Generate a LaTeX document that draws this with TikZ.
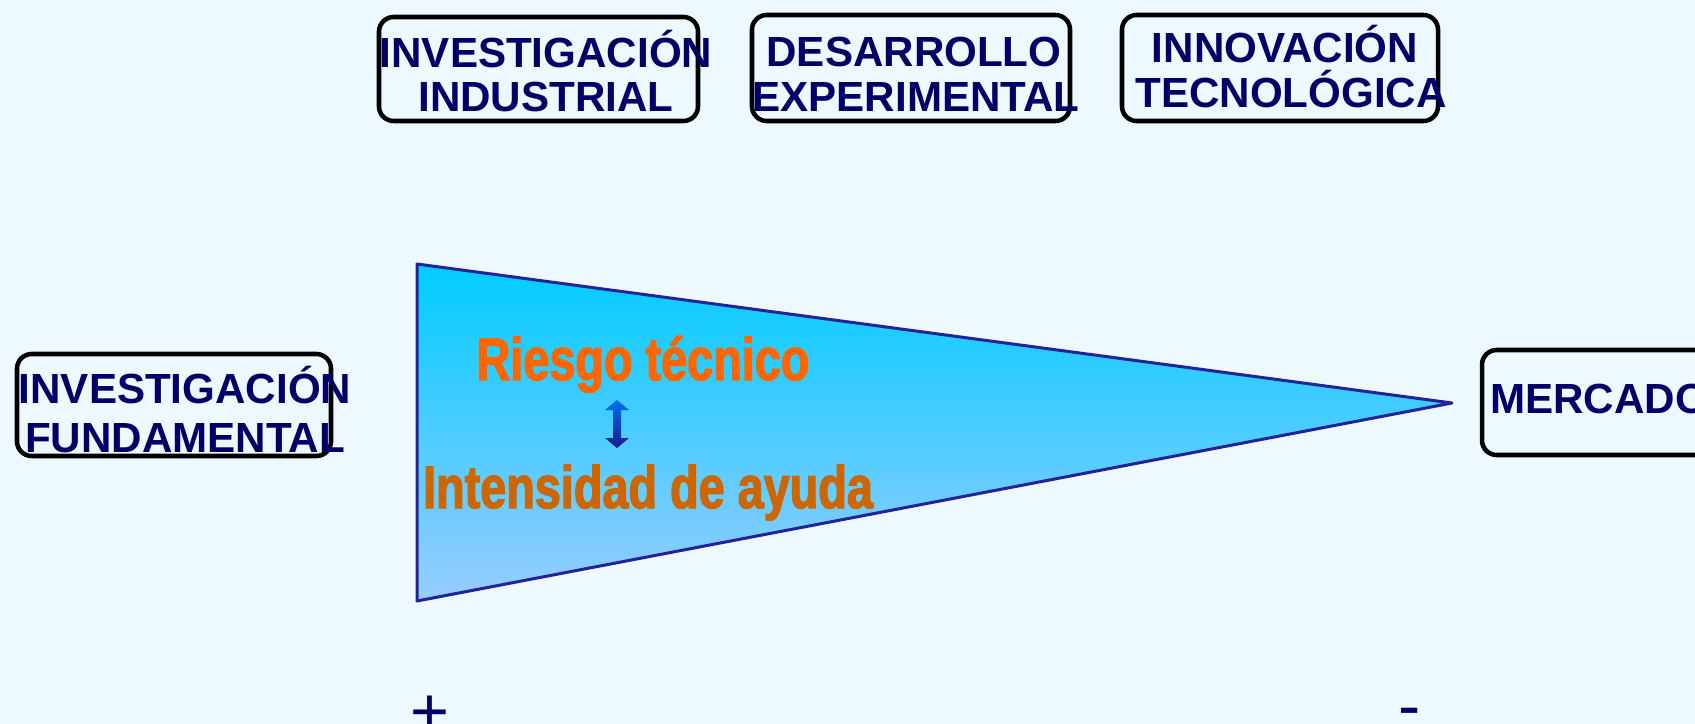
\documentclass[tikz,border=0pt]{standalone}
\usepackage{fontspec}
\setmainfont{Liberation Sans}
\newfontfamily\impfont[FakeStretch=0.78,FakeBold=2.2]{Liberation Sans Bold}
\definecolor{bg}{RGB}{238,248,255}
\definecolor{navy}{RGB}{0,0,102}
\definecolor{triline}{RGB}{34,34,153}
\definecolor{tritop}{RGB}{0,204,255}
\definecolor{tribot}{RGB}{153,204,255}
\definecolor{orangeA}{RGB}{255,102,0}
\definecolor{orangeB}{RGB}{204,102,0}
\definecolor{arrtop}{RGB}{0,112,240}
\definecolor{arrbot}{RGB}{26,26,140}
\begin{document}
\begin{tikzpicture}[x=0.75pt,y=-0.75pt,
  box/.style={draw=black,line width=3.4pt,rounded corners=11pt,inner sep=0pt},
  boxtxt/.style={text=navy,font=\fontsize{31.6}{34}\selectfont\bfseries,anchor=base,inner sep=0pt},
  imptxt/.style={font=\impfont\fontsize{45}{50}\selectfont,anchor=base,inner sep=0pt},
  signtxt/.style={text=navy,font=\fontsize{50}{55}\selectfont,anchor=base,inner sep=0pt}]
\useasboundingbox (0,0) rectangle (1695,724);
\fill[bg] (0,0) rectangle (1695,724);
\clip (0,0) rectangle (1695,724);

% boxes
\node[box,minimum width=239.25pt,minimum height=78pt] (b1) at (538.5,69) {};
\node[box,minimum width=238.5pt,minimum height=79.5pt] (b2) at (911,68) {};
\node[box,minimum width=237pt,minimum height=79.5pt] (b3) at (1280,68) {};
\node[box,minimum width=235.5pt,minimum height=76.5pt] (b4) at (174,405) {};
\node[box,minimum width=237pt,minimum height=78.75pt] (b5) at (1640,402.5) {};

% box texts
\node[boxtxt] (t1a) at (546,68) {INVESTIGACIÓN};
\node[boxtxt] (t1b) at (546,112) {INDUSTRIAL};
\node[boxtxt] (t2a) at (914,67) {DESARROLLO};
\node[boxtxt] (t2b) at (916,112) {EXPERIMENTAL};
\node[boxtxt] (t3a) at (1285,63) {INNOVACIÓN};
\node[boxtxt] (t3b) at (1291,108) {TECNOLÓGICA};
\node[boxtxt] (t4a) at (185,403) {INVESTIGACIÓN};
\node[boxtxt] (t4b) at (185,452) {FUNDAMENTAL};
\node[boxtxt,anchor=base west] (t5) at (1490,413) {MERCADO};

% triangle
\coordinate (A) at (417,264);
\coordinate (B) at (1452,403);
\coordinate (C) at (417,601);
\draw[triline,line width=2.25pt,line join=round,top color=tritop,bottom color=tribot] (A) -- (B) -- (C) -- cycle;

% texts in triangle
\node[imptxt,text=orangeA] (riesgo) at (643,380) {Riesgo técnico};
\node[imptxt,text=orangeB] (intens) at (648,508) {Intensidad de ayuda};

% double arrow
\path[top color=arrtop,bottom color=arrbot]
  (617,400) -- (629,410) -- (621,410) -- (621,438) -- (629,438) -- (617,448)
  -- (605,438) -- (613,438) -- (613,410) -- (605,410) -- cycle;

% signs
\node[signtxt] (plus) at (430,734) {+};
\node[signtxt] (minus) at (1410,728) {-};
\end{tikzpicture}
\end{document}
